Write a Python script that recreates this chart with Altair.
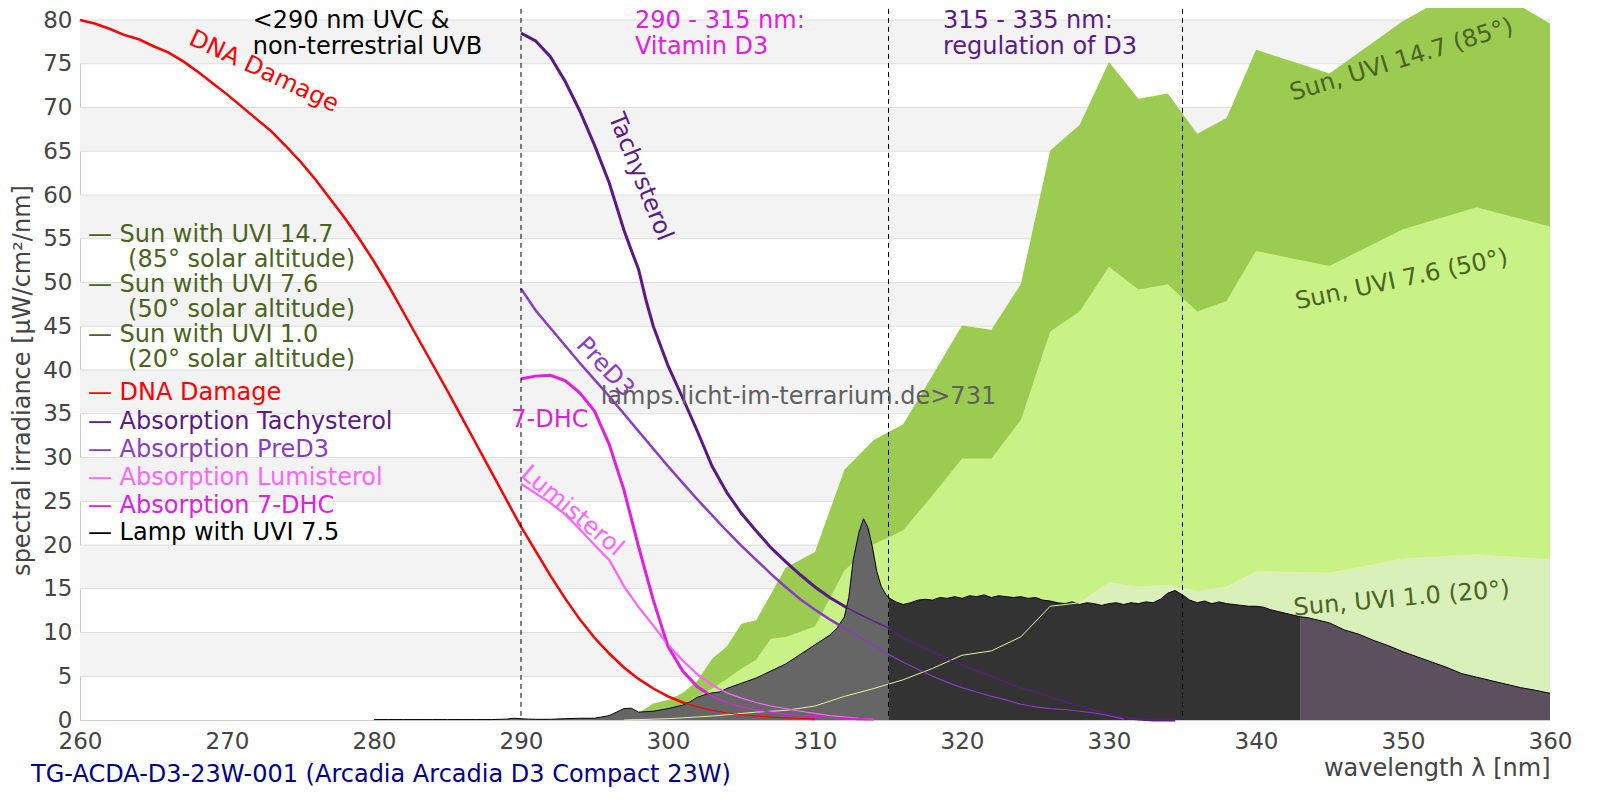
import altair as alt
import pandas as pd

FONT = "DejaVu Sans"
FS = 24
FS_TICK = 23

# ---------------- data ----------------
dna_nm = list(range(260, 311))
dna = [80.0, 79.6, 79.0, 78.3, 77.8, 77.0, 76.3, 75.3, 74.1, 72.8,
       71.5, 70.1, 68.7, 67.3, 65.6, 63.8, 61.8, 59.6, 57.4, 55.0,
       52.4, 49.6, 46.6, 43.6, 40.6, 37.6, 34.5, 31.4, 28.3, 25.2,
       22.1, 19.3, 16.5, 13.9, 11.5, 9.4, 7.6, 6.0, 4.7, 3.6,
       2.7, 2.0, 1.5, 1.1, 0.8, 0.6, 0.45, 0.33, 0.24, 0.17, 0.12]

tachy_nm = [290, 291, 292, 293, 294, 295, 296, 297, 297.5, 298, 298.5, 299, 300, 301, 302, 303, 304, 305,
            306, 307, 308, 309, 310, 311, 312, 313, 314, 315, 316, 317, 318, 319, 320, 321, 322, 323, 324,
            325, 326, 327, 328, 329, 330, 331, 332, 333, 334.5]
tachy = [78.5, 77.6, 75.8, 73.0, 69.6, 65.7, 61.4, 56.0, 53.7, 51.5, 48.0, 45.0, 40.5, 36.8, 33.0, 29.0, 26.0, 23.6,
         21.6, 19.7, 18.1, 16.6, 15.2, 14.0, 13.0, 12.1, 11.3, 10.5, 9.4, 8.6, 7.8, 7.0, 6.3, 5.6, 5.0, 4.3, 3.7,
         3.2, 2.6, 2.1, 1.6, 1.1, 0.6, 0.3, 0.1, 0.0, 0.0]

pred3_nm = list(range(290, 332))
pred3 = [49.3, 46.8, 44.8, 42.8, 40.8, 38.9, 37.0, 35.0, 33.0, 31.0,
         29.0, 27.1, 25.2, 23.4, 21.6, 19.9, 18.3, 16.7, 15.2, 13.8,
         12.6, 11.5, 10.5, 9.5, 8.5, 7.5, 6.6, 5.8, 5.0, 4.3,
         3.7, 3.2, 2.7, 2.3, 1.8, 1.5, 1.3, 1.2, 1.0, 0.8, 0.5, 0.1]

dhc_nm = list(range(290, 315))
dhc = [39.0, 39.3, 39.4, 38.8, 37.4, 35.3, 31.5, 26.3, 19.8, 13.7, 8.4, 5.6, 3.8, 2.7, 2.0,
       1.5, 1.15, 0.9, 0.65, 0.5, 0.4, 0.3, 0.22, 0.15, 0.1]

lumi_nm = list(range(290, 315))
lumi = [27.0, 25.9, 24.8, 23.5, 21.8, 20.0, 18.3, 15.3, 12.9, 10.8, 8.6, 6.8, 5.2, 4.0, 3.1,
        2.5, 2.0, 1.6, 1.3, 1.0, 0.75, 0.5, 0.35, 0.2, 0.1]

sun_nm = [297, 298, 299, 300, 301, 302, 303, 304, 305, 306, 307, 308, 310, 312, 314, 316, 318, 320,
          322, 324, 326, 328, 330, 332, 334, 336, 338, 340, 345, 350, 355, 360]
sun147 = [0, 0.8, 1.9, 2.3, 3.1, 4.5, 7.0, 8.4, 11.0, 11.4, 14.4, 17.4, 19.2, 28.6, 32.0, 33.8, 39.4, 45.1,
          44.6, 49.8, 65.1, 68.0, 75.2, 71.0, 71.6, 67.0, 68.8, 76.6, 73.9, 79.9, 84.5, 79.6]
sun76 = [0, 0.4, 0.9, 1.2, 1.8, 2.7, 3.6, 4.7, 5.9, 6.9, 9.3, 9.5, 10.7, 17.1, 20.1, 21.7, 25.7, 29.9,
         29.9, 34.3, 44.4, 46.7, 51.8, 49.2, 49.8, 46.7, 47.9, 53.6, 51.9, 56.1, 58.6, 56.4]
sun10 = [0, 0.05, 0.1, 0.15, 0.25, 0.35, 0.45, 0.6, 0.75, 0.9, 1.0, 1.1, 1.6, 2.7, 3.6, 4.6, 5.9, 7.4,
         7.9, 9.5, 13.0, 13.4, 15.7, 15.2, 15.4, 14.7, 15.2, 16.95, 16.8, 18.4, 18.9, 18.3]

lamp_nm_a = [280, 281, 282, 283, 284, 285, 286, 287, 288, 289, 289.5, 290, 290.5, 291, 292, 293, 294, 295,
             295.5, 296, 296.5, 297, 297.5, 298, 298.5, 299, 300, 301, 301.5, 302, 302.5, 303, 303.5, 304,
             305, 306, 307, 308, 309, 310, 311, 311.5, 312, 312.3, 312.6, 313, 313.3, 313.6, 313.9, 314.2,
             314.5, 314.8]
lamp_a = [0.05, 0.05, 0.05, 0.05, 0.05, 0.05, 0.05, 0.05, 0.05, 0.1, 0.2, 0.15, 0.1, 0.08, 0.08, 0.15, 0.2, 0.2,
          0.35, 0.5, 0.9, 1.3, 1.35, 0.9, 0.95, 1.0, 1.3, 1.7, 2.1, 2.6, 2.9, 3.1, 3.2, 3.6,
          4.2, 4.8, 5.6, 6.4, 7.5, 8.6, 9.7, 10.5, 11.8, 14.0, 18.3, 21.5, 23.0, 22.0, 19.8, 17.0,
          15.3, 14.4]
lamp_nm_b = [315, 315.5, 316, 316.5, 317, 317.5, 318, 318.5, 319, 319.5, 320, 320.5, 321, 321.5, 322, 322.5,
             323, 323.5, 324, 324.5, 325, 325.5, 326, 326.5, 327, 327.5, 328, 328.5, 329, 329.5, 330, 330.5,
             331, 331.5, 332, 332.5, 333, 333.5, 334, 334.5, 335, 335.5, 336, 336.5, 337, 337.5, 338, 338.5,
             339, 339.5, 340, 340.5, 341, 341.5, 342, 342.5, 343]
lamp_b = [14.0, 13.5, 13.2, 13.4, 13.7, 13.8, 13.7, 14.0, 13.9, 14.1, 13.9, 14.2, 14.1, 14.3, 14.0, 14.2,
          14.1, 14.0, 14.1, 13.9, 14.0, 13.7, 13.6, 13.4, 13.3, 13.5, 13.2, 13.4, 13.3, 13.1, 13.3, 13.4,
          13.2, 13.4, 13.3, 13.5, 13.4, 13.8, 14.5, 14.8, 14.3, 13.7, 13.4, 13.6, 13.3, 13.5, 13.3, 13.2,
          13.1, 13.0, 13.0, 12.9, 12.6, 12.4, 12.2, 12.0, 11.8]
lamp_nm_c = [343.5, 344, 345, 346, 347, 348, 349, 350, 351, 352, 353, 354, 355, 356, 357, 358, 359, 360]
lamp_c = [11.7, 11.5, 11.1, 10.3, 9.8, 9.1, 8.5, 7.8, 7.2, 6.6, 6.0, 5.3, 4.9, 4.5, 4.1, 3.7, 3.4, 3.05]

x_ticks = [260, 270, 280, 290, 300, 310, 320, 330, 340, 350, 360]
y_ticks = [0, 5, 10, 15, 20, 25, 30, 35, 40, 45, 50, 55, 60, 65, 70, 75, 80]
band_lo = [5, 15, 25, 35, 45, 55, 65, 75]
marker_nm = [290, 315, 335]

legend_text = ["— Sun with UVI 14.7", "(85° solar altitude)", "— Sun with UVI 7.6", "(50° solar altitude)",
               "— Sun with UVI 1.0", "(20° solar altitude)", "— DNA Damage", "— Absorption Tachysterol",
               "— Absorption PreD3", "— Absorption Lumisterol", "— Absorption 7-DHC", "— Lamp with UVI 7.5"]

# ---------------- styling ----------------
C_SUNTXT = "#4B6320"
C_DNA = "#FF0000"
C_TACHY = "#5B1A87"
C_PRED3 = "#8A3CC8"
C_LUMI = "#FF66FF"
C_DHC = "#E020E0"
C_G1 = "#9BCB50"
C_G2 = "#C8F285"
C_G3 = "#DAF0BA"

assert len(lamp_nm_a) == len(lamp_a) and len(lamp_nm_b) == len(lamp_b) and len(lamp_nm_c) == len(lamp_c)

xs = alt.Scale(domain=[260, 360], nice=False, zero=False)
ys = alt.Scale(domain=[0, 80], nice=False, zero=False)

x_axis = alt.Axis(values=x_ticks, grid=False, ticks=False, labelPadding=10, labelFont=FONT,
                  labelFontSize=FS_TICK, labelColor="#444444", labelFlush=False, format="d",
                  domainColor="#cccccc", title="wavelength λ [nm]", titleFont=FONT, titleFontSize=FS,
                  titleFontWeight="normal", titleColor="#444444", titleAlign="right",
                  titleBaseline="middle", titleX=1470, titleY=48)
y_axis = alt.Axis(values=y_ticks, grid=False, ticks=False, labelPadding=8, labelFont=FONT,
                  labelFontSize=FS_TICK, labelColor="#444444", format="d", domainColor="#cccccc",
                  title="spectral irradiance [µW/cm²/nm]", titleFont=FONT, titleFontSize=FS,
                  titleFontWeight="normal", titleColor="#444444", titleAngle=270, titleAlign="center",
                  titleBaseline="middle", titleX=-58, titleY=360)


def X(f):
    return alt.X(f"{f}:Q", scale=xs, axis=x_axis)


def Y(f):
    return alt.Y(f"{f}:Q", scale=ys, axis=y_axis)


def series(nm, v):
    return pd.DataFrame({"nm": nm, "v": v})


layers = []

# background bands and gridlines
bands = pd.DataFrame({"lo": band_lo, "hi": [b + 5 for b in band_lo],
                      "x0": [x_ticks[0]] * len(band_lo), "x1": [x_ticks[-1]] * len(band_lo)})
layers.append(alt.Chart(bands).mark_rect(color="#f3f3f3").encode(x=X("x0"), x2="x1", y=Y("lo"), y2="hi"))
grid = pd.DataFrame({"g": y_ticks[1:], "x0": [x_ticks[0]] * 16, "x1": [x_ticks[-1]] * 16})
layers.append(alt.Chart(grid).mark_rule(color="#dddddd", strokeWidth=1).encode(x=X("x0"), x2="x1", y=Y("g")))

# sun areas
for vals, col in [(sun147, C_G1), (sun76, C_G2), (sun10, C_G3)]:
    layers.append(alt.Chart(series(sun_nm, vals)).mark_area(color=col, opacity=1, clip=False)
                  .encode(x=X("nm"), y=Y("v")))

curves = [(dna_nm, dna, C_DNA, 2.5), (lumi_nm, lumi, C_LUMI, 2.2), (dhc_nm, dhc, C_DHC, 3),
          (pred3_nm, pred3, C_PRED3, 2.5), (tachy_nm, tachy, C_TACHY, 3)]

# thick curves (below the lamp)
for nm, v, col, w in curves:
    layers.append(alt.Chart(series(nm, v)).mark_line(color=col, strokeWidth=w)
                  .encode(x=X("nm"), y=Y("v")))

# lamp spectrum
lamp = series(lamp_nm_a + lamp_nm_b + lamp_nm_c, lamp_a + lamp_b + lamp_c)
for lo, hi, col in [(280, 315, "#666666"), (315, 343, "#333333"), (343, 360, "#5C4F5E")]:
    part = lamp[(lamp.nm >= lo) & (lamp.nm <= hi)]
    layers.append(alt.Chart(part).mark_area(color=col, opacity=1).encode(x=X("nm"), y=Y("v")))
layers.append(alt.Chart(lamp).mark_line(color="#000000", strokeWidth=1).encode(x=X("nm"), y=Y("v")))

# thin curves (on top of the lamp)
layers.append(alt.Chart(series(sun_nm, sun10)).mark_line(color="#E4F0A6", strokeWidth=1)
              .encode(x=X("nm"), y=Y("v")))
for nm, v, col, w in curves:
    layers.append(alt.Chart(series(nm, v)).mark_line(color=col, strokeWidth=1.2)
                  .encode(x=X("nm"), y=Y("v")))

# dashed markers
marks = pd.DataFrame({"nm": marker_nm, "top": [82.3] * 3, "bot": [0] * 3})
layers.append(alt.Chart(marks).mark_rule(color="#000000", strokeWidth=1, strokeDash=[5, 4])
              .encode(x=X("nm"), y=Y("top"), y2="bot"))


def txt(xv, yv, t, color, angle=0, align="left", size=FS):
    df = pd.DataFrame({"x": [xv], "y": [yv], "t": [t]})
    kw = dict(font=FONT, fontSize=size, color=color, align=align, baseline="middle")
    if angle:
        kw["angle"] = angle
    return alt.Chart(df).mark_text(**kw).encode(x=X("x"), y=Y("y"), text="t:N")


# legend
leg_x = [260.54, 263.27, 260.54, 263.27, 260.54, 263.27, 260.54, 260.54, 260.54, 260.54, 260.54, 260.54]
leg_y = [55.43, 52.57, 49.71, 46.86, 44.0, 41.14, 37.37, 34.06, 30.86, 27.66, 24.46, 21.37]
leg_c = [C_SUNTXT] * 6 + [C_DNA, C_TACHY, C_PRED3, C_LUMI, C_DHC, "#000000"]
leg = pd.DataFrame({"x": leg_x, "y": leg_y, "t": legend_text, "c": leg_c})
layers.append(alt.Chart(leg).mark_text(font=FONT, fontSize=FS, align="left", baseline="middle")
              .encode(x=X("x"), y=Y("y"), text="t:N", color=alt.Color("c:N", scale=None)))

# region labels
layers += [
    txt(271.75, 79.85, "<290 nm UVC &", "#000000"),
    txt(271.75, 76.95, "non-terrestrial UVB", "#000000"),
    txt(297.75, 79.85, "290 - 315 nm:", C_DHC),
    txt(297.75, 76.95, "Vitamin D3", C_DHC),
    txt(318.7, 79.85, "315 - 335 nm:", C_TACHY),
    txt(318.7, 76.95, "regulation of D3", C_TACHY),
]

# curve labels
layers += [
    txt(272.5, 74.1, "DNA Damage", C_DNA, angle=25, align="center"),
    txt(298.1, 62.06, "Tachysterol", C_TACHY, angle=68, align="center"),
    txt(295.71, 40.29, "PreD3", C_PRED3, angle=47, align="center"),
    txt(291.97, 34.29, "7-DHC", C_DHC, align="center"),
    txt(293.47, 23.89, "Lumisterol", C_LUMI, angle=40, align="center"),
    txt(349.91, 75.4, "Sun, UVI 14.7 (85°)", C_SUNTXT, angle=343, align="center"),
    txt(349.91, 50.29, "Sun, UVI 7.6 (50°)", C_SUNTXT, angle=348, align="center"),
    txt(349.91, 13.83, "Sun, UVI 1.0 (20°)", C_SUNTXT, angle=355, align="center"),
    txt(295.42, 36.95, "lamps.licht-im-terrarium.de>731", "#606060"),
    txt(256.67, -6.29, "TG-ACDA-D3-23W-001 (Arcadia Arcadia D3 Compact 23W)", "#000088"),
]

chart = alt.layer(*layers).properties(
    width=1470, height=700,
    padding={"left": 72, "top": 12, "right": 40, "bottom": 72},
    autosize=alt.AutoSizeParams(type="none"),
    background="white",
).configure_view(stroke=None)

chart.save("out.html", embed_options={"renderer": "svg", "actions": False})
